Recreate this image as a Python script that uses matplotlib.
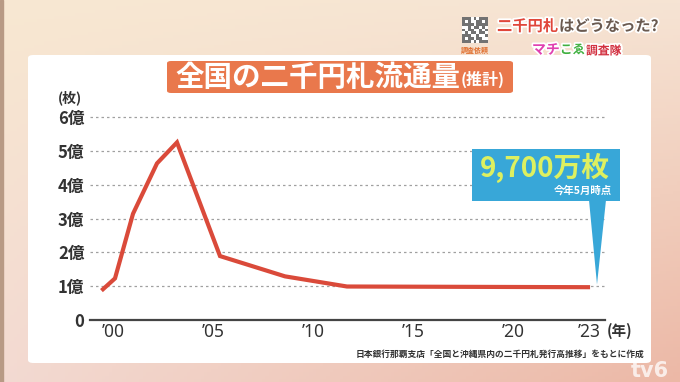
import numpy as np
import matplotlib
matplotlib.use("Agg")
import matplotlib.pyplot as plt
from matplotlib.patches import FancyBboxPatch, Polygon, Rectangle
import matplotlib.patheffects as pe

plt.rcParams['font.family'] = ['Noto Sans CJK JP', 'DejaVu Sans']

# ---- data ----
years = [1999.5, 2000.1, 2001.0, 2002.2, 2003.2, 2005.35, 2008.6, 2011.7, 2023.75]
values = [0.91, 1.23, 3.14, 4.63, 5.25, 1.89, 1.29, 0.99, 0.97]   # 億枚
xtick_pos = [2000, 2005, 2010, 2015, 2020, 2023.8]
xtick_labels = ["’00", "’05", "’10", "’15", "’20", "’23"]
ytick_pos = [0, 1, 2, 3, 4, 5, 6]
ytick_labels = ["0", "1億", "2億", "3億", "4億", "5億", "6億"]
title = "全国の二千円札流通量"
title_sub = "(推計)"
callout_main = "9,700万枚"
callout_sub = "今年5月時点"
source = "日本銀行那覇支店「全国と沖縄県内の二千円札発行高推移」をもとに作成"

W, H = 680, 382
fig = plt.figure(figsize=(W / 100, H / 100), dpi=100)

def fx(x):
    return x / W

def fy(y):
    return 1 - y / H

# ---- background gradient ----
bg = fig.add_axes([0, 0, 1, 1], zorder=-10)
bg.set_axis_off()
c_tl = np.array([248, 232, 210]) / 255
c_tr = np.array([246, 228, 212]) / 255
c_bl = np.array([243, 218, 210]) / 255
c_br = np.array([236, 184, 166]) / 255
u = np.linspace(0, 1, 200)[None, :, None]
v = np.linspace(0, 1, 120)[:, None, None]
img = (c_tl * (1 - u) * (1 - v) + c_tr * u * (1 - v) + c_bl * (1 - u) * v + c_br * u * v)
bg.imshow(img, extent=[0, 1, 0, 1], aspect='auto', origin='upper')
bg.set_xlim(0, 1); bg.set_ylim(0, 1)
bg.add_patch(Rectangle((0, 0), fx(3), 1, color='#b89a85', transform=fig.transFigure))

# ---- white panel ----
panel = FancyBboxPatch((fx(28), fy(363)), fx(651) - fx(28), fy(55) - fy(363),
                       boxstyle="round,pad=0,rounding_size=0.008",
                       facecolor='white', edgecolor='none', transform=fig.transFigure, zorder=-5)
fig.patches.append(panel)

# ---- title box ----
tbox = FancyBboxPatch((fx(167), fy(93)), fx(513) - fx(167), fy(61) - fy(93),
                      boxstyle="round,pad=0,rounding_size=0.006",
                      facecolor='#E9784C', edgecolor='none', transform=fig.transFigure)
fig.patches.append(tbox)
tmain = fig.text(fx(175), fy(78), title, fontsize=20.5, fontweight='bold', color='white',
                 ha='left', va='center')
renderer = fig.canvas.get_renderer()
bb = tmain.get_window_extent(renderer=renderer)
fig.text(bb.x1 / W + fx(1), fy(79), title_sub, fontsize=11.5, fontweight='bold', color='white',
         ha='left', va='center')

# ---- main axes ----
x0px, x1px = 90, 605
ypx0 = 320
ppu = 33.83
ytop = 6.25
ax = fig.add_axes([fx(x0px), fy(ypx0), fx(x1px) - fx(x0px), (ytop * ppu) / H])
ax.set_xlim(2000 + (x0px - 113) / 20, 2000 + (x1px - 113) / 20)
ax.set_ylim(0, ytop)
ax.patch.set_alpha(0)
for s in ['top', 'right', 'left']:
    ax.spines[s].set_visible(False)
ax.spines['bottom'].set_color('#444444')
ax.spines['bottom'].set_linewidth(1.6)

for yv in ytick_pos[1:]:
    ax.axhline(yv, color='#a0a0a0', lw=0.9, ls=(0, (2.0, 2.4)), zorder=1)

ax.plot(years, values, color='#DA4A3A', lw=3.0, solid_joinstyle='miter', zorder=3)

ax.set_yticks(ytick_pos)
ax.set_yticklabels(ytick_labels, fontsize=12, color='#333333', fontweight='bold')
ax.tick_params(axis='y', length=0, pad=4)
ax.set_xticks(xtick_pos)
ax.set_xticklabels(xtick_labels, fontsize=12.5, color='#333333', fontweight='bold',
                   family=['Noto Sans', 'DejaVu Sans'])
ax.tick_params(axis='x', length=0, pad=2)

fig.text(fx(58), fy(98), "(枚)", fontsize=10, fontweight='bold', color='#333333',
         ha='left', va='center')
fig.text(fx(607), fy(331), "(年)", fontsize=10.5, fontweight='bold', color='#333333',
         ha='left', va='center')

# ---- callout ----
tip = ax.transData.transform((years[-1] + 0.45, values[-1] + 0.08))
tipf = fig.transFigure.inverted().transform(tip)
blue = '#38A7D8'
fig.patches.append(Rectangle((fx(472), fy(201)), fx(620) - fx(472), fy(149) - fy(201),
                             facecolor=blue, edgecolor='none', transform=fig.transFigure))
fig.patches.append(Polygon([(fx(589), fy(200)), (fx(606), fy(200)), tuple(tipf)],
                           closed=True, facecolor=blue, edgecolor='none',
                           transform=fig.transFigure))
fig.text(fx(545), fy(168), callout_main, fontsize=20, fontweight='bold', color='#DDF060',
         ha='center', va='center')
fig.text(fx(612), fy(190), callout_sub, fontsize=7.5, fontweight='bold', color='white',
         ha='right', va='center')

# ---- source ----
fig.text(fx(644), fy(354), source, fontsize=6.3, color='#333333', ha='right', va='center',
         fontweight='bold')

# ---- top-right header ----
qr = fig.add_axes([fx(462), fy(45), fx(488) - fx(462), fy(15) - fy(45)])
qr_pattern = np.array([
    [1,1,1,0,1,0,1,1,1],
    [1,0,1,0,0,1,1,0,1],
    [1,1,1,1,0,1,1,1,1],
    [0,0,1,0,1,1,0,1,0],
    [1,0,1,1,0,0,1,0,1],
    [0,1,0,1,1,0,1,1,0],
    [1,1,1,0,0,1,0,0,1],
    [1,0,1,1,0,1,1,0,0],
    [1,1,1,0,1,0,1,1,1]])
qr.imshow(qr_pattern, cmap='Greys', vmin=0, vmax=1.6, interpolation='nearest')
qr.set_axis_off()
fig.text(fx(475), fy(50), "調査依頼", fontsize=5, color='#E07030', ha='center', va='center',
         fontweight='bold')

stroke = [pe.withStroke(linewidth=2.5, foreground='white')]
fig.text(fx(497), fy(26), "二千円札", fontsize=11, fontweight='bold', color='#E0463A',
         ha='left', va='center', path_effects=stroke)
fig.text(fx(559), fy(26), "はどうなった?", fontsize=11, fontweight='bold', color='#6a5a50',
         ha='left', va='center', path_effects=stroke)
fig.text(fx(532), fy(50), "マチ", fontsize=10, fontweight='bold', color='#E040B0',
         ha='left', va='center', path_effects=stroke)
fig.text(fx(560), fy(50), "こゑ", fontsize=9, fontweight='bold', color='#40B040',
         ha='left', va='center', path_effects=stroke)
fig.text(fx(586), fy(51), "調査隊", fontsize=8.5, fontweight='bold', color='#D23040',
         ha='left', va='center', path_effects=stroke)

# ---- watermark ----
fig.text(fx(650), fy(371), "tv6", fontsize=15, fontweight='bold', color='white', alpha=0.75,
         ha='center', va='center', family=['DejaVu Sans'])

fig.savefig("out.png", dpi=100)
